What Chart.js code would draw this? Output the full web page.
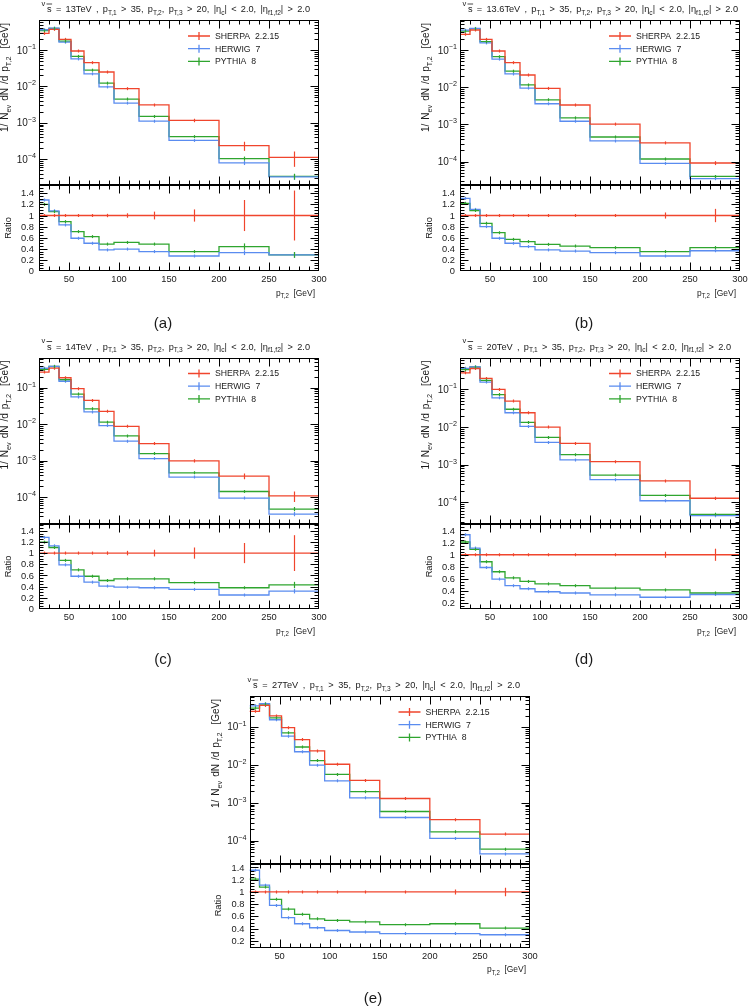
<!DOCTYPE html>
<html><head><meta charset="utf-8">
<script src="https://cdn.jsdelivr.net/npm/chart.js@4.4.0/dist/chart.umd.min.js"></script>
<style>
html,body{margin:0;padding:0;background:#fff;width:748px;height:1006px;overflow:hidden}
canvas{position:absolute;left:0;top:0}
</style></head><body>
<div id="wrap"></div>
<script>
// ---------------- DATA ----------------
const binEdges = [20,30,40,52,65,80,95,120,150,200,250,300];
const xTickLabels = [50,100,150,200,250,300];
const ratioTickLabels = [0,0.2,0.4,0.6,0.8,1,1.2,1.4];
const seriesNames = ['SHERPA  2.2.15','HERWIG  7','PYTHIA  8'];
const captions = ['(a)','(b)','(c)','(d)','(e)'];
const energies = ['13TeV','13.6TeV','14TeV','20TeV','27TeV'];

// (a) 13 TeV
const sherpaA = [0.286,0.369,0.196,0.094,0.045,0.0249,0.0087,0.0031,0.00117,2.37e-4,1.13e-4];
const herwigA = [0.36,0.40,0.164,0.057,0.0222,0.0097,0.0035,0.00111,0.00033,8.0e-5,3.3e-5];
const pythiaA = [0.34,0.392,0.176,0.067,0.028,0.0123,0.0045,0.0015,0.00042,1.05e-4,3.4e-5];
const herwigRatioA = [1.28,1.085,0.83,0.59,0.50,0.38,0.395,0.35,0.27,0.33,0.29];
const pythiaRatioA = [1.20,1.07,0.89,0.71,0.62,0.485,0.515,0.485,0.35,0.44,0.29];
const sherpaErrA = [0.005,0.005,0.012,0.015,0.02,0.03,0.04,0.07,0.11,0.28,0.45];
const mcErrA = [0.004,0.004,0.008,0.01,0.015,0.02,0.02,0.03,0.05,0.13,0.18];

// (b) 13.6 TeV
const sherpaB = [0.264,0.345,0.193,0.094,0.0457,0.0213,0.0093,0.00333,0.00102,3.2e-4,9.2e-5];
const herwigB = [0.34,0.38,0.155,0.057,0.0227,0.0095,0.0036,0.00122,0.00036,9.0e-5,3.5e-5];
const pythiaB = [0.32,0.375,0.167,0.066,0.027,0.0115,0.0046,0.0015,0.00046,1.18e-4,4.0e-5];
const herwigRatioB = [1.31,1.11,0.80,0.59,0.50,0.44,0.38,0.36,0.33,0.27,0.365];
const pythiaRatioB = [1.22,1.09,0.86,0.69,0.57,0.53,0.48,0.45,0.42,0.35,0.42];
const sherpaErrB = [0.003,0.003,0.004,0.005,0.006,0.008,0.01,0.012,0.015,0.055,0.12];
const mcErrB = [0.003,0.003,0.004,0.005,0.006,0.007,0.008,0.01,0.015,0.03,0.07];

// (c) 14 TeV
const sherpaC = [0.267,0.343,0.187,0.094,0.045,0.0226,0.0088,0.00297,0.001,3.8e-4,1.1e-4];
const herwigC = [0.34,0.385,0.15,0.056,0.0218,0.0092,0.00345,0.00115,0.00036,9.6e-5,3.5e-5];
const pythiaC = [0.32,0.38,0.165,0.067,0.0265,0.0114,0.0048,0.00158,0.00047,1.45e-4,4.8e-5];
const herwigRatioC = [1.28,1.13,0.79,0.586,0.48,0.41,0.39,0.38,0.35,0.25,0.32];
const pythiaRatioC = [1.195,1.10,0.87,0.70,0.586,0.51,0.54,0.54,0.47,0.38,0.43];
const sherpaErrC = [0.005,0.005,0.01,0.015,0.02,0.03,0.04,0.06,0.1,0.18,0.32];
const mcErrC = [0.004,0.004,0.006,0.008,0.01,0.012,0.015,0.02,0.03,0.06,0.13];

// (d) 20 TeV
const sherpaD = [0.277,0.36,0.196,0.10,0.049,0.024,0.010,0.00368,0.0012,3.7e-4,1.28e-4];
const herwigD = [0.365,0.40,0.157,0.06,0.024,0.0104,0.0039,0.00134,0.0004,1.1e-4,4.4e-5];
const pythiaD = [0.335,0.395,0.175,0.073,0.0297,0.0133,0.0053,0.00185,0.00053,1.52e-4,4.8e-5];
const herwigRatioD = [1.33,1.11,0.79,0.60,0.49,0.44,0.39,0.37,0.34,0.30,0.345];
const pythiaRatioD = [1.21,1.09,0.885,0.72,0.62,0.56,0.52,0.49,0.45,0.42,0.37];
const sherpaErrD = [0.003,0.003,0.004,0.005,0.006,0.007,0.008,0.01,0.012,0.05,0.1];
const mcErrD = [0.003,0.003,0.004,0.005,0.006,0.007,0.008,0.01,0.012,0.02,0.05];

// (e) 27 TeV
const sherpaE = [0.258,0.37,0.195,0.096,0.0465,0.0233,0.0104,0.0039,0.0013,3.6e-4,1.5e-4];
const herwigE = [0.36,0.41,0.155,0.057,0.0222,0.0098,0.0038,0.00135,0.00041,1.15e-4,4.5e-5];
const pythiaE = [0.315,0.40,0.173,0.070,0.0296,0.013,0.0056,0.00197,0.00059,1.72e-4,6.0e-5];
const herwigRatioE = [1.355,1.11,0.78,0.58,0.48,0.415,0.37,0.345,0.32,0.32,0.30];
const pythiaRatioE = [1.21,1.08,0.88,0.72,0.635,0.56,0.535,0.51,0.465,0.48,0.41];
const sherpaErrE = [0.003,0.003,0.004,0.005,0.006,0.007,0.008,0.01,0.012,0.04,0.07];
const mcErrE = [0.003,0.003,0.004,0.005,0.006,0.007,0.008,0.01,0.012,0.015,0.02];

// ---------------- LAYOUT / STYLE ----------------
const COLORS = ['#f0452d','#5a8cf0','#2fa52f'];
const FONT = '"Liberation Sans", Arial, sans-serif';
const TXT = '#1a1a1a';
const W = 748, H = 1006;

const panels = [
  {L:39,  R:319, T:20,    MB:185,   RB:271,   yMin:1.97e-5, yMax:0.667, rMin:0,     rMax:1.55,  tx0:47,  tx1:310, cap:[163,324],
   s:sherpaA, h:herwigA, p:pythiaA, hr:herwigRatioA, pr:pythiaRatioA, se:sherpaErrA, me:mcErrA},
  {L:460, R:740, T:20,    MB:185,   RB:271,   yMin:2.36e-5, yMax:0.64,  rMin:0,     rMax:1.55,  tx0:468, tx1:738, cap:[584,324],
   s:sherpaB, h:herwigB, p:pythiaB, hr:herwigRatioB, pr:pythiaRatioB, se:sherpaErrB, me:mcErrB},
  {L:39,  R:319, T:357.5, MB:524,   RB:609,   yMin:1.87e-5, yMax:0.67,  rMin:0,     rMax:1.52,  tx0:47,  tx1:310, cap:[163,660],
   s:sherpaC, h:herwigC, p:pythiaC, hr:herwigRatioC, pr:pythiaRatioC, se:sherpaErrC, me:mcErrC},
  {L:460, R:740, T:357.5, MB:524,   RB:609,   yMin:2.65e-5, yMax:0.706, rMin:0.106, rMax:1.507, tx0:468, tx1:731, cap:[584,660],
   s:sherpaD, h:herwigD, p:pythiaD, hr:herwigRatioD, pr:pythiaRatioD, se:sherpaErrD, me:mcErrD},
  {L:249.5,R:530,T:696,   MB:863.5, RB:947.5, yMin:2.51e-5, yMax:0.655, rMin:0.092, rMax:1.465, tx0:253, tx1:520, cap:[373,999],
   s:sherpaE, h:herwigE, p:pythiaE, hr:herwigRatioE, pr:pythiaRatioE, se:sherpaErrE, me:mcErrE},
];

// ---------------- HELPERS ----------------
function fontOf(sz){ return sz.toFixed(2)+'px '+FONT; }
function countSpaces(segs){ let n=0; for (const [t] of segs) n += (t.match(/ /g)||[]).length; return n; }
function richWidth(ctx, segs, size, extra){
  extra = extra||0;
  let w=0;
  for (const [t,k] of segs){ ctx.font = fontOf(k==='n'?size:size*0.72); w += ctx.measureText(t).width + extra*(t.match(/ /g)||[]).length; }
  return w;
}
function drawRich(ctx, segs, x, y, size, extra){
  extra = extra||0;
  ctx.textAlign='left'; ctx.textBaseline='alphabetic';
  for (const [t,k] of segs){
    const s = k==='n'?size:size*0.72;
    ctx.font = fontOf(s);
    const dy = k==='sub'? size*0.32 : (k==='sup'? -size*0.45 : 0);
    const parts = t.split(' ');
    const spw = ctx.measureText(' ').width + extra;
    parts.forEach((pt,j)=>{
      if (pt) { ctx.fillText(pt, x, y+dy); x += ctx.measureText(pt).width; }
      if (j < parts.length-1) x += spw;
    });
  }
  return x;
}
// draws rich text fitted to a target width by widening spaces (or compressing if needed)
function drawFitted(ctx, segs, x, y, size, target){
  const nat = richWidth(ctx, segs, size);
  const nsp = countSpaces(segs);
  let extra = nsp ? (target - nat)/nsp : 0, sc = 1;
  if (extra < 0) { sc = target/nat; extra = 0; }
  ctx.save(); ctx.translate(x, y); ctx.scale(sc, 1);
  drawRich(ctx, segs, 0, 0, size, extra);
  ctx.restore();
  return sc;
}
function stepData(vals){
  return binEdges.map((e,i)=>({x:e, y: vals[Math.min(i, vals.length-1)]}));
}
function makeDataset(vals, errs, color){
  return {data: stepData(vals), vals: vals, errs: errs, borderColor: color, borderWidth: 1.3,
          stepped: true, fill: false, pointRadius: 0, tension: 0};
}

function rivetPlugin(pn, idx, kind){
  return {
    id: 'rivet'+idx+kind,
    afterDatasetsDraw(chart){
      const ctx = chart.ctx, xs = chart.scales.x, ys = chart.scales.y, a = chart.chartArea;
      ctx.save();
      ctx.beginPath(); ctx.rect(a.left, a.top, a.right-a.left, a.bottom-a.top); ctx.clip();
      chart.data.datasets.forEach(ds=>{
        ctx.strokeStyle = ds.borderColor; ctx.lineWidth = 1.2;
        for (let i=0;i<ds.vals.length;i++){
          const cx = Math.round(xs.getPixelForValue((binEdges[i]+binEdges[i+1])/2))+0.5;
          const v = ds.vals[i], e = ds.errs[i];
          const lo = Math.max(v-e, 1e-9), hi = v+e;
          let y1 = ys.getPixelForValue(lo), y2 = ys.getPixelForValue(hi);
          if (Math.abs(y1-y2) < 3){ const m=(y1+y2)/2; y1=m+1.5; y2=m-1.5; }
          ctx.beginPath(); ctx.moveTo(cx,y1); ctx.lineTo(cx,y2); ctx.stroke();
        }
      });
      ctx.restore();
      ctx.save();
      ctx.strokeStyle = '#000'; ctx.lineWidth = 1;
      const l = Math.round(a.left)+0.5, r = Math.round(a.right)-0.5, t = Math.round(a.top)+0.5, b = Math.round(a.bottom)-0.5;
      ctx.strokeRect(l, t, r-l, b-t);
      ctx.beginPath();
      for (let v=30; v<300; v+=10){
        const x = Math.round(xs.getPixelForValue(v))+0.5;
        const len = v%50===0 ? 8 : 4;
        ctx.moveTo(x,b); ctx.lineTo(x,b-len);
        ctx.moveTo(x,t); ctx.lineTo(x,t+len);
      }
      const yt = [];
      if (kind==='main'){
        for (let d=Math.floor(Math.log10(ys.min)); d<=Math.ceil(Math.log10(ys.max)); d++){
          for (let m=1;m<=9;m++){ const v=m*Math.pow(10,d); if (v>ys.min && v<ys.max) yt.push([v, m===1]); }
        }
      } else {
        for (let k=0; k<=40; k++){ const v=k*0.05; if (v>ys.min+1e-6 && v<ys.max-1e-6) yt.push([v, k%4===0]); }
      }
      yt.forEach(([v,maj])=>{
        const y = Math.round(ys.getPixelForValue(v))+0.5;
        const len = maj?8:4;
        ctx.moveTo(l,y); ctx.lineTo(l+len,y);
        ctx.moveTo(r,y); ctx.lineTo(r-len,y);
      });
      ctx.stroke();
      ctx.restore();
    },
    afterDraw(chart){
      const ctx = chart.ctx, xs = chart.scales.x, ys = chart.scales.y, a = chart.chartArea;
      ctx.save();
      ctx.fillStyle = TXT;
      if (kind==='main'){
        for (let d=Math.floor(Math.log10(ys.min)); d<=Math.ceil(Math.log10(ys.max)); d++){
          const v = Math.pow(10,d);
          if (v<ys.min || v>ys.max) continue;
          const y = ys.getPixelForValue(v);
          const segs = [['10','n'],['\u2212'+(-d),'sup']];
          const w = richWidth(ctx, segs, 10);
          drawRich(ctx, segs, a.left-3-w, y+3.5, 10);
        }
        // y axis title (rotated), fitted to 109 px
        const ysegs = [['1/ N','n'],['ev','sub'],[' dN /d p','n'],['T,2','sub'],['  [GeV]','n']];
        ctx.save();
        ctx.translate(a.left-31, a.top+112);
        ctx.rotate(-Math.PI/2);
        drawFitted(ctx, ysegs, 0, 0, 10, 109);
        ctx.restore();
        // legend
        seriesNames.forEach((nm,i)=>{
          const y = a.top+16+i*12.7;
          const x0 = a.left+149;
          ctx.strokeStyle = COLORS[i]; ctx.lineWidth = 1.3;
          ctx.beginPath();
          ctx.moveTo(x0, y); ctx.lineTo(x0+22, y);
          ctx.moveTo(x0+11, y-4); ctx.lineTo(x0+11, y+4);
          ctx.stroke();
          ctx.fillStyle = TXT;
          ctx.font = fontOf(8.7); ctx.textAlign='left'; ctx.textBaseline='middle';
          ctx.fillText(nm, x0+27, y+0.5);
        });
        // title
        const tsegs = [['s','n'],[' = '+energies[idx]+' , ','n'],['p','n'],['T,1','sub'],[' > 35, ','n'],
          ['p','n'],['T,2','sub'],[', ','n'],['p','n'],['T,3','sub'],[' > 20, |','n'],['\u03B7','n'],['c','sub'],
          ['| < 2.0, |','n'],['\u03B7','n'],['f1,f2','sub'],['| > 2.0','n']];
        const tsize = 9.2;
        const base = a.top - 8;
        ctx.fillStyle = TXT;
        const sc = drawFitted(ctx, tsegs, pn.tx0, base, tsize, pn.tx1 - pn.tx0);
        ctx.font = fontOf(tsize);
        const sw = ctx.measureText('s').width*sc;
        ctx.strokeStyle = TXT; ctx.lineWidth = 0.8;
        ctx.beginPath();
        ctx.moveTo(pn.tx0-0.5, base-8); ctx.lineTo(pn.tx0+sw+0.5, base-8);
        ctx.stroke();
        ctx.font = fontOf(7.5); ctx.textAlign='left'; ctx.textBaseline='alphabetic';
        ctx.fillText('v', pn.tx0-5.5, base-6.5);
      } else {
        ratioTickLabels.forEach(v=>{
          if (v<ys.min-1e-6 || v>ys.max) return;
          const y = ys.getPixelForValue(v);
          ctx.font = fontOf(9.3); ctx.textAlign='right'; ctx.textBaseline='middle';
          ctx.fillText(String(v), a.left-5, y+0.5);
        });
        xTickLabels.forEach(v=>{
          const x = xs.getPixelForValue(v);
          ctx.font = fontOf(9.3); ctx.textAlign='center'; ctx.textBaseline='middle';
          ctx.fillText(String(v), x, a.bottom+8.5);
        });
        const xsegs = [['p','n'],['T,2','sub'],['  [GeV]','n']];
        drawFitted(ctx, xsegs, a.right-43, a.bottom+24.5, 9, 39);
        ctx.save();
        ctx.translate(a.left-31, (a.top+a.bottom)/2);
        ctx.rotate(-Math.PI/2);
        ctx.font = fontOf(9.3); ctx.textAlign='center'; ctx.textBaseline='middle';
        ctx.fillText('Ratio', 0, 0);
        ctx.restore();
        ctx.font = fontOf(15); ctx.textAlign='center'; ctx.textBaseline='middle';
        ctx.fillText(captions[idx], pn.cap[0], pn.cap[1]);
      }
      ctx.restore();
    }
  };
}

function makeChart(pn, idx, kind){
  const cv = document.createElement('canvas');
  cv.width = W; cv.height = H;
  document.getElementById('wrap').appendChild(cv);
  let datasets, top, bottom, yScale;
  if (kind==='main'){
    top = pn.T; bottom = pn.MB;
    datasets = [
      makeDataset(pn.s, pn.s.map((v,i)=>v*pn.se[i]), COLORS[0]),
      makeDataset(pn.h, pn.h.map((v,i)=>v*pn.me[i]), COLORS[1]),
      makeDataset(pn.p, pn.p.map((v,i)=>v*pn.me[i]), COLORS[2])
    ];
    yScale = {type:'logarithmic', min:pn.yMin, max:pn.yMax, display:false};
  } else {
    top = pn.MB; bottom = pn.RB;
    const sr = pn.s.map(v=>v/v);
    datasets = [
      makeDataset(sr, pn.se, COLORS[0]),
      makeDataset(pn.hr, pn.hr.map((v,i)=>v*pn.me[i]), COLORS[1]),
      makeDataset(pn.pr, pn.pr.map((v,i)=>v*pn.me[i]), COLORS[2])
    ];
    yScale = {type:'linear', min:pn.rMin, max:pn.rMax, display:false};
  }
  return new Chart(cv.getContext('2d'), {
    type:'line',
    data:{datasets},
    options:{
      responsive:false, animation:false, events:[],
      layout:{padding:{left:pn.L, right:W-pn.R, top:top, bottom:H-bottom}},
      plugins:{legend:{display:false}, title:{display:false}, tooltip:{enabled:false}},
      scales:{ x:{type:'linear', min:20, max:300, display:false}, y:yScale },
      elements:{point:{radius:0}}
    },
    plugins:[rivetPlugin(pn, idx, kind)]
  });
}

panels.forEach((pn,i)=>{ makeChart(pn,i,'main'); makeChart(pn,i,'ratio'); });
</script>
</body></html>
